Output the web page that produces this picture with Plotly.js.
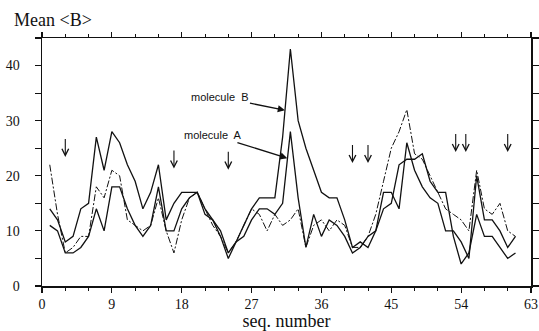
<!DOCTYPE html>
<html><head><meta charset="utf-8">
<script src="https://cdn.plot.ly/plotly-3.0.1.min.js"></script>
<style>html,body{margin:0;padding:0;background:#fff}</style>
</head><body><div id="chart" style="width:539px;height:331px"></div>
<script>
const seq = [1,2,3,4,5,6,7,8,9,10,11,12,13,14,15,16,17,18,19,20,21,22,23,24,25,26,27,28,29,30,31,32,33,34,35,36,37,38,39,40,41,42,43,44,45,46,47,48,49,50,51,52,53,54,55,56,57,58,59,60,61];
const molB = [14,12,8,9,14,15,27,21,28,26,22,19,14,17,22,12,15,17,17,17,14,12,10,6,8,11,14,16,16,16,27,43,30,25,21,17,16,16,12,7,8,7,10,17,17,14,26,21,18,16,15,10,10,8,5,20,12,12,10,7,9];
const molA = [11,10,6,6,7,9,14,10,18,18,14,11,9,11,18,10,10,14,16,17,13,12,9,5,8,9,12,14,14,13,15,28,16,7,13,9,12,11,9,6,7,9,10,14,15,22,23,23,24,19,17,17,9,4,6,13,9,9,7,5,6];
const third = [22,13,6,7,9,9,18,16,21,20,12,11,10,11,16,10,6,12,16,17,14,11,9,6,8,11,14,13,10,13,11,12,14,7,11,12,10,12,11,7,7,9,13,19,25,28,32,24,23,20,17,14,13,12,10,21,14,13,15,10,9];
const xTickVals = [0,9,18,27,36,45,54,63];
const yTickVals = [0,5,10,15,20,25,30,35,40,45];
const yTickText = ['0','','10','','20','','30','','40',''];
const arrowX = [3,17,24,40,42,53.3,54.6,60];
const arrowTipY = [23.4,21.3,21.1,22.3,22.3,24.3,24.3,24.3];
const labelText = ['molecule  B','molecule  A'];
const labelTipX = [31.3,31.6];
const labelTipY = [31.9,23.2];

const serif = 'Liberation Serif, Times New Roman, serif';
const traces = [
  {x: seq, y: molB, mode:'lines', line:{color:'#111', width:1.3}, name:'molecule B'},
  {x: seq, y: molA, mode:'lines', line:{color:'#111', width:1.3}, name:'molecule A'},
  {x: seq, y: third, mode:'lines', line:{color:'#111', width:1, dash:'7px,2px,2px,2px'}, name:'other'}
];
const ann = [];
arrowX.forEach((ax,i)=>ann.push({x:ax, y:arrowTipY[i], xref:'x', yref:'y', text:' ', font:{size:1},
  showarrow:true, ax:0, ay:-20, arrowhead:5, arrowsize:1.2, arrowwidth:1.1, arrowcolor:'#111', standoff:0, startstandoff:0}));
const axOffsets = [[-65,-13],[-74,-23]];
labelText.forEach((t,i)=>ann.push({x:labelTipX[i], y:labelTipY[i], xref:'x', yref:'y', text:t,
  showarrow:true, ax:axOffsets[i][0], ay:axOffsets[i][1], arrowhead:2, arrowsize:1.1, arrowwidth:1.3,
  arrowcolor:'#111', font:{family:'Liberation Sans, Arial', size:11, color:'#111'}}));

const layout = {
  width:539, height:331,
  margin:{l:42, r:8, t:38, b:45},
  paper_bgcolor:'#fff', plot_bgcolor:'#fff',
  showlegend:false,
  font:{family:serif, color:'#111'},
  title:{text:'Mean &lt;B&gt;', x:14/539, xanchor:'left', xref:'container', y:1-20/331, yanchor:'middle', yref:'container',
    pad:{l:0,r:0,t:0,b:0}, font:{family:serif, size:18, color:'#111'}},
  xaxis:{range:[0,63], tickvals:xTickVals, ticks:'outside', ticklen:5, tickwidth:1.2, tickcolor:'#111',
    minor:{dtick:3, ticks:'outside', ticklen:3, tickcolor:'#111', tickwidth:1},
    showline:true, linecolor:'#111', linewidth:1.5, mirror:'ticks', showgrid:false, zeroline:false,
    tickfont:{family:serif, size:14, color:'#111'},
    title:{text:'seq. number', font:{family:serif, size:18, color:'#111'}, standoff:5}},
  yaxis:{range:[0,45], tickvals:yTickVals, ticktext:yTickText, ticks:'outside', ticklen:6, tickwidth:1.2, tickcolor:'#111',
    showline:true, linecolor:'#111', linewidth:1.5, mirror:'ticks', showgrid:false, zeroline:false,
    ticklabelstandoff:12, tickfont:{family:serif, size:14, color:'#111'}},
  annotations: ann
};
Plotly.newPlot('chart', traces, layout, {displayModeBar:false, staticPlot:true});
</script></body></html>
